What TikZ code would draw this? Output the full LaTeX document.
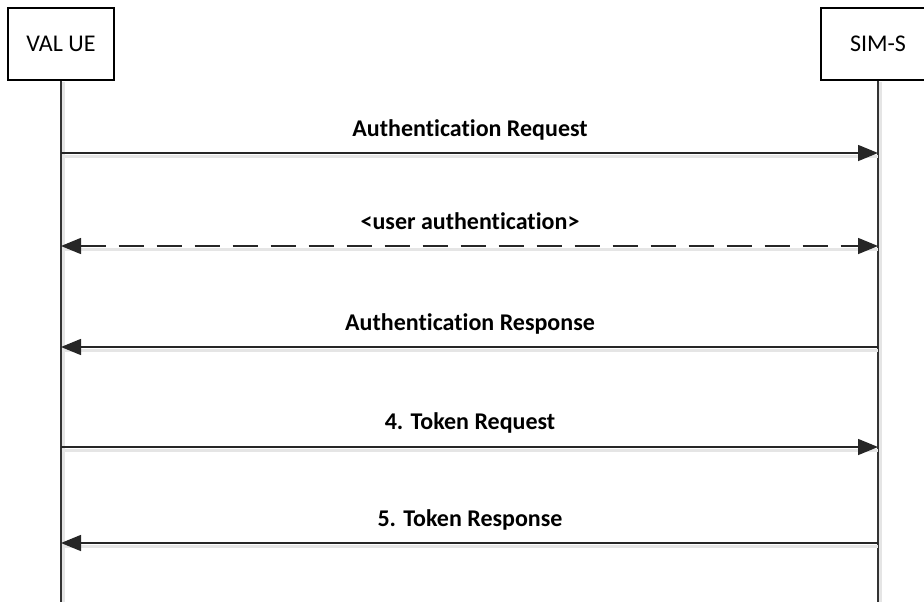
\documentclass[tikz,border=0pt]{standalone}
\usepackage{fontspec}
\setmainfont{Carlito}[Ligatures=NoCommon]
\usetikzlibrary{arrows.meta}
\tikzset{
  actor/.style={draw=black, line width=1.2pt, fill=white, minimum width=106pt, minimum height=72pt, inner sep=0pt, font=\fontsize{24}{28}\selectfont},
  life/.style={draw=black!80, line width=1.5pt},
  msg/.style={draw=black!85, line width=1.5pt, -{Triangle[length=20pt,width=16pt]}},
  dmsg/.style={msg, {Triangle[length=20pt,width=16pt]}-{Triangle[length=20pt,width=16pt]}, dash pattern=on 25pt off 13pt},
  shadow/.style={draw=black!10, line width=3pt},
  lbl/.style={font=\bfseries\fontsize{24}{28}\selectfont, anchor=base, inner sep=0pt}
}
\begin{document}
\begin{tikzpicture}[x=1pt,y=-1pt]
\useasboundingbox (0,0) rectangle (924,602);
% lifeline ends
\coordinate (Lb) at (61,602);
\coordinate (Rb) at (878,602);
% shadows of lifelines
\draw[shadow] (63.5,82) -- (63.5,602);
\draw[shadow] (880.5,82) -- (880.5,602);
% actors
\node[actor] (ue) at (61,44) {VAL UE};
\node[actor, minimum width=114pt] (sim) at (878,44) {SIM-S};
\draw[life] (ue.south) -- (Lb);
\draw[life] (sim.south) -- (Rb);
% message anchor points
\foreach \n/\y in {1/153,2/246,3/347,4/447,5/543}{
  \coordinate (L\n) at (61,\y);
  \coordinate (R\n) at (878,\y);
  \draw[shadow] (63,\y+3) -- (878,\y+3);
}
\draw[msg] (L1) -- (R1);
\draw[dmsg] (L2) -- (R2);
\draw[msg] (R3) -- (L3);
\draw[msg] (L4) -- (R4);
\draw[msg] (R5) -- (L5);
% labels
\node[lbl] (t1) at (470,136) {Authentication Request};
\node[lbl] (t2) at (470,229) {<user authentication>};
\node[lbl] (t3) at (470,330) {Authentication Response};
\node[lbl] (t4) at (470,429) {4. Token Request};
\node[lbl] (t5) at (470,526) {5. Token Response};
\end{tikzpicture}
\end{document}
